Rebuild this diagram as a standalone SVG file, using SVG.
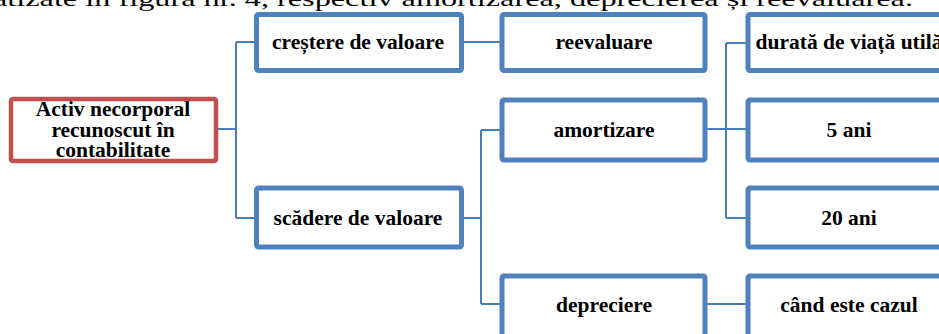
<svg xmlns="http://www.w3.org/2000/svg" width="939" height="334" viewBox="0 0 939 334">
<style>
.box{fill:#fff;stroke:#4F81BD;stroke-width:5}
.root{fill:#fff;stroke:#C0504D;stroke-width:4.5}
.t{font-family:'Liberation Serif','Times New Roman',serif;font-weight:bold;font-size:21.5px;fill:#000;text-anchor:middle}
.top{font-family:'Liberation Serif','Times New Roman',serif;font-size:22px;fill:#000}
.c{fill:none;stroke:#4A7EBB;stroke-width:2}
</style>
<rect width="939" height="334" fill="#fff"/>
<text class="top" x="-7" y="5.5" textLength="920" lengthAdjust="spacingAndGlyphs">atizate în figura nr. 4, respectiv amortizarea, deprecierea și reevaluarea.</text>
<g id="connectors">
<path class="c" d="M217 129H236M236 42V218M236 42H254M236 218H254"/>
<path class="c" d="M463 42H500"/>
<path class="c" d="M462 218H481M481 130V304M481 130H500M481 304H500"/>
<path class="c" d="M707 129H746M726 43V218M726 43H746M726 218H746"/>
<path class="c" d="M707 304H746"/>
</g>
<g id="root"><rect class="root" x="11" y="99" width="205" height="62" rx="2"/>
<text class="t"><tspan x="113" y="116">Activ necorporal</tspan><tspan x="113" y="136.5">recunoscut în</tspan><tspan x="113" y="157">contabilitate</tspan></text></g>
<g id="crestere"><rect class="box" x="256.5" y="14.5" width="205" height="56" rx="2"/><text class="t" x="358" y="48.5">creștere de valoare</text></g>
<g id="scadere"><rect class="box" x="256.5" y="188" width="205" height="59" rx="2"/><text class="t" x="358" y="224.5">scădere de valoare</text></g>
<g id="reevaluare"><rect class="box" x="502" y="14.5" width="203" height="56" rx="2"/><text class="t" x="604" y="48.5">reevaluare</text></g>
<g id="amortizare"><rect class="box" x="502" y="100" width="203" height="60" rx="2"/><text class="t" x="604" y="136.5">amortizare</text></g>
<g id="depreciere"><rect class="box" x="502" y="276" width="203" height="62" rx="2"/><text class="t" x="604" y="311.5">depreciere</text></g>
<g id="durata"><rect class="box" x="748" y="14.5" width="205" height="56" rx="2"/><text class="t" x="849" y="48.5">durată de viață utilă</text></g>
<g id="ani5"><rect class="box" x="748" y="100" width="205" height="60" rx="2"/><text class="t" x="849" y="136.5">5 ani</text></g>
<g id="ani20"><rect class="box" x="748" y="188" width="205" height="59" rx="2"/><text class="t" x="849" y="224.5">20 ani</text></g>
<g id="cand"><rect class="box" x="748" y="276" width="205" height="62" rx="2"/><text class="t" x="849" y="311.5">când este cazul</text></g>
</svg>
